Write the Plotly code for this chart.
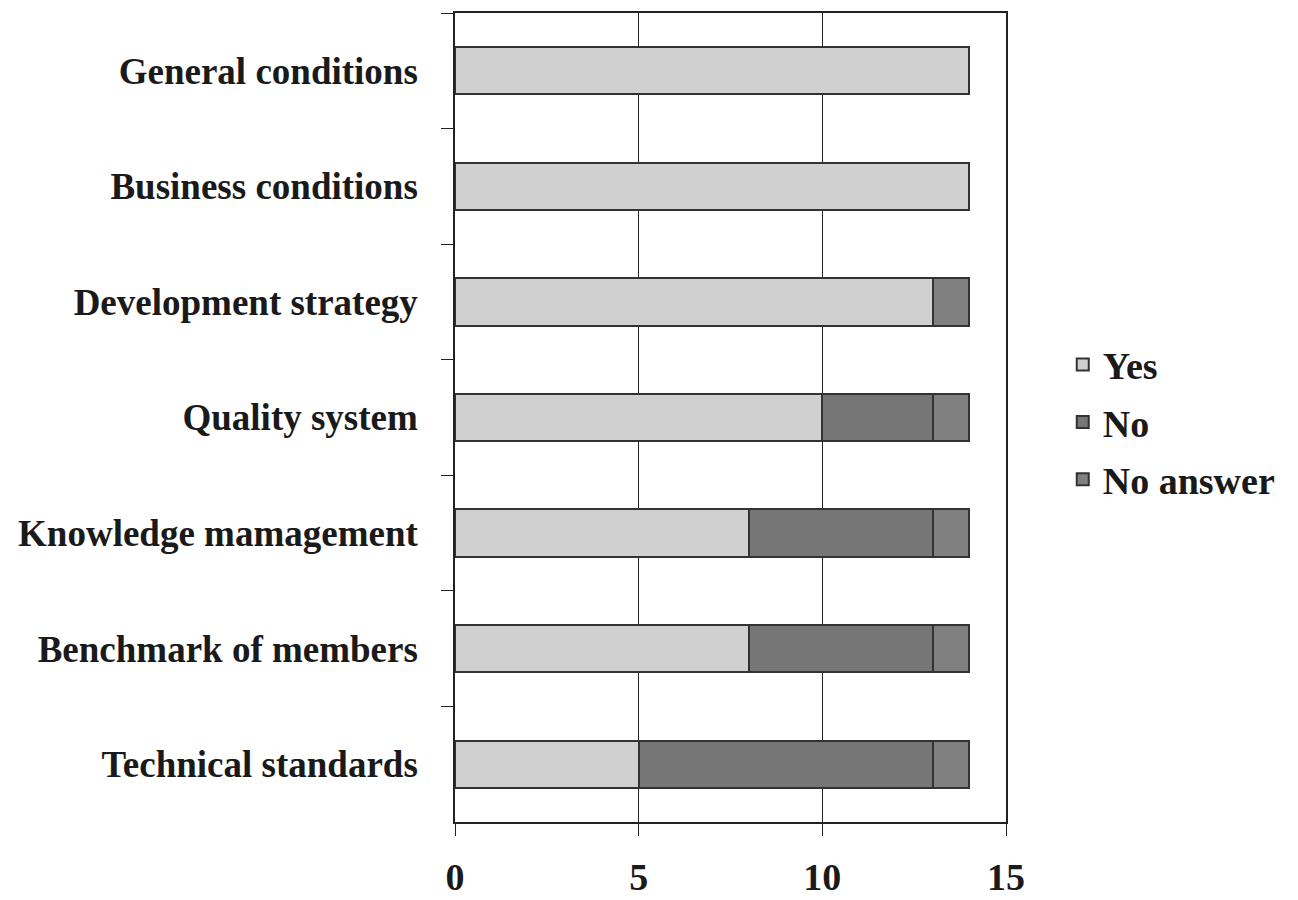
import plotly.graph_objects as go

categories = ["General conditions", "Business conditions", "Development strategy",
              "Quality system", "Knowledge mamagement", "Benchmark of members",
              "Technical standards"]
yes_vals = [14, 14, 13, 10, 8, 8, 5]
no_vals = [0, 0, 0, 3, 5, 5, 8]
na_vals = [0, 0, 1, 1, 1, 1, 1]
x_ticks = [0, 5, 10, 15]

FONT = "Liberation Serif"
series = [("Yes", yes_vals, "#d0d0d0"), ("No", no_vals, "#767676"), ("No answer", na_vals, "#808080")]

fig = go.Figure()
for name, vals, col in series:
    fig.add_trace(go.Bar(
        y=categories, x=vals, name=name, orientation="h",
        marker=dict(color=col, line=dict(color="#333333", width=2)),
        legendgroup=name,
    ))

fig.update_layout(
    width=1298, height=892,
    barmode="stack", bargap=0.59,
    plot_bgcolor="white", paper_bgcolor="white",
    margin=dict(l=447, r=300, t=5, b=78),
    font=dict(family=FONT, size=37, color="#1a1a1a"),
    showlegend=True,
    legend=dict(x=1.103, y=0.494, xanchor="left", yanchor="middle",
                traceorder="grouped", tracegroupgap=5,
                font=dict(family=FONT, size=38, color="#1a1a1a", weight="bold"),
                itemwidth=30),
)
fig.update_xaxes(
    range=[0, 15], tickvals=x_ticks, ticktext=[f"<b>{v}</b>" for v in x_ticks],
    showgrid=True, gridcolor="#222222", gridwidth=1,
    showline=True, linecolor="#222222", linewidth=1.5, mirror=True,
    ticks="outside", ticklen=12, tickcolor="#222222", tickwidth=1.2,
    ticklabelstandoff=9, zeroline=False, automargin=False,
    tickfont=dict(family=FONT, size=38, weight="bold"),
)
fig.update_yaxes(
    categoryorder="array", categoryarray=categories, autorange="reversed",
    tickson="boundaries", ticks="outside", ticklen=12, tickcolor="#222222", tickwidth=1.2,
    showline=True, linecolor="#222222", linewidth=1.5, mirror=True,
    showgrid=False, ticklabelstandoff=28, automargin=False,
    tickfont=dict(family=FONT, size=37, weight="bold"),
)
fig.write_html("out.html")
